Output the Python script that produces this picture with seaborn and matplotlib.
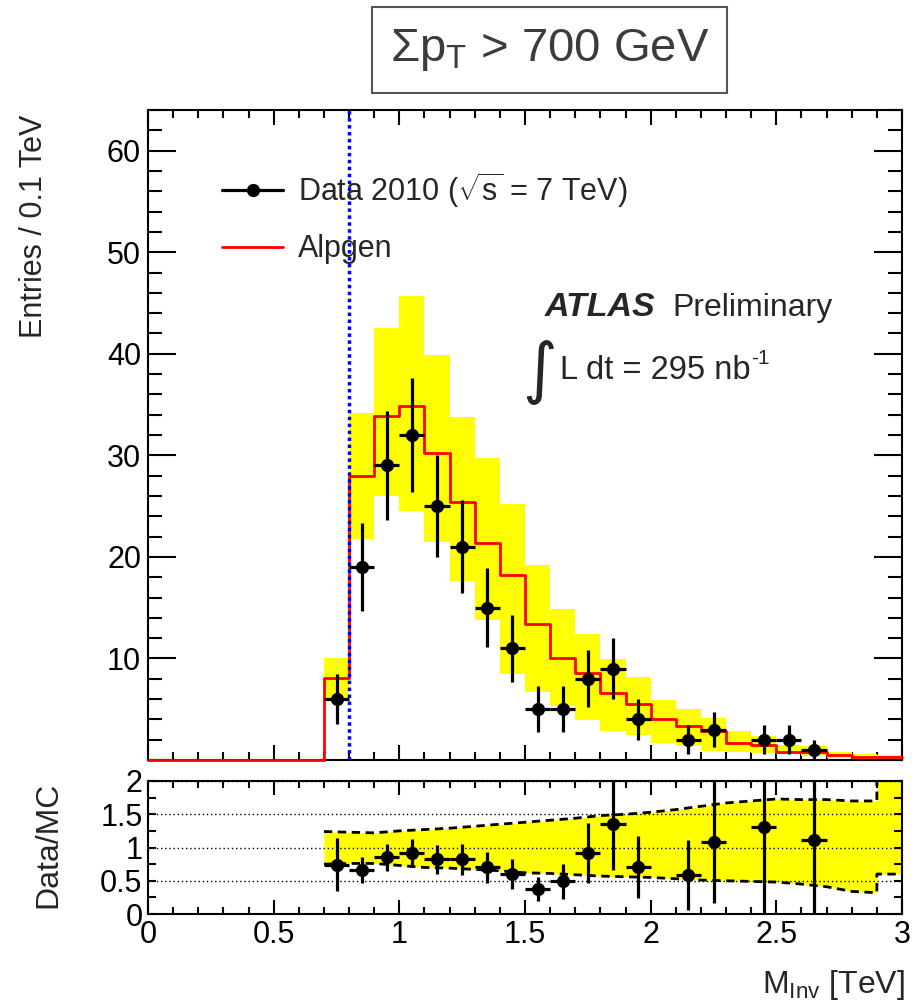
import numpy as np
import matplotlib
matplotlib.use("Agg")
import matplotlib.pyplot as plt
import seaborn as sns
from matplotlib.ticker import MultipleLocator
from matplotlib.lines import Line2D
from matplotlib.patches import Rectangle

# ---------------- data ----------------
bin_edges = [round(0.1 * i, 1) for i in range(31)]
mc_centers = [round(0.05 + 0.1 * i, 2) for i in range(30)]
mc_values = [0, 0, 0, 0, 0, 0, 0,
             8.1, 28.0, 33.9, 34.9, 30.2, 25.4, 21.4, 18.2, 13.4, 10.0, 8.6,
             6.6, 5.5, 4.0, 3.3, 2.9, 1.7, 1.45, 0.8, 0.8, 0.46, 0.33, 0.33]

band_centers = [round(0.75 + 0.1 * i, 2) for i in range(23)]
band_hi = [10.0, 34.2, 42.5, 45.7, 39.9, 33.8, 29.7, 25.2, 19.2, 14.9, 12.4, 9.9,
           8.2, 5.9, 5.0, 4.1, 2.9, 2.4, 1.45, 1.4, 0.8, 0.55, 0.5]
band_lo = [6.1, 21.8, 26.0, 24.5, 21.5, 17.6, 13.8, 8.5, 6.7, 5.3, 3.9, 2.85,
           2.5, 1.7, 1.4, 0.9, 0.8, 0.7, 0.56, 0.4, 0.2, 0.1, 0.1]

data_x = [0.75, 0.85, 0.95, 1.05, 1.15, 1.25, 1.35, 1.45, 1.55, 1.65, 1.75,
          1.85, 1.95, 2.15, 2.25, 2.45, 2.55, 2.65]
data_y = [6, 19, 29, 32, 25, 21, 15, 11, 5, 5, 8, 9, 4, 2, 3, 2, 2, 1]
data_err = [2.45, 4.36, 5.39, 5.66, 5.0, 4.58, 3.87, 3.32, 2.24, 2.24, 2.83,
            3.0, 2.0, 1.41, 1.73, 1.41, 1.41, 1.0]

ratio_x = [0.75, 0.85, 0.95, 1.05, 1.15, 1.25, 1.35, 1.45, 1.55, 1.65, 1.75,
           1.85, 1.95, 2.15, 2.25, 2.45, 2.65]
ratio_y = [0.74, 0.66, 0.85, 0.92, 0.82, 0.82, 0.70, 0.60, 0.37, 0.49, 0.92,
           1.35, 0.71, 0.59, 1.09, 1.31, 1.12]
ratio_err = [0.40, 0.19, 0.20, 0.21, 0.22, 0.24, 0.23, 0.22, 0.18, 0.26, 0.45,
             0.69, 0.47, 0.53, 0.92, 1.40, 1.30]

ratio_band_x = [0.7, 0.8, 0.9, 1.0, 1.1, 1.2, 1.3, 1.4, 1.5, 1.6, 1.7, 1.8,
                1.9, 2.0, 2.1, 2.2, 2.3, 2.4, 2.5, 2.6, 2.7, 2.8, 2.9, 2.9, 3.0]
ratio_band_hi = [1.24, 1.23, 1.22, 1.25, 1.27, 1.29, 1.32, 1.35, 1.38, 1.41,
                 1.44, 1.48, 1.50, 1.53, 1.57, 1.62, 1.67, 1.70, 1.73, 1.72,
                 1.72, 1.70, 1.70, 2.5, 2.5]
ratio_band_lo = [0.75, 0.76, 0.76, 0.73, 0.70, 0.69, 0.67, 0.65, 0.62, 0.61,
                 0.59, 0.57, 0.56, 0.55, 0.53, 0.51, 0.50, 0.49, 0.48, 0.45,
                 0.41, 0.34, 0.32, 0.60, 0.60]

cut_value = 0.8
main_yticks = [0, 10, 20, 30, 40, 50, 60]
main_yticklabels = ["", "10", "20", "30", "40", "50", "60"]
ratio_yticks = [0, 0.5, 1, 1.5, 2]
ratio_yticklabels = ["0", "0.5", "1", "1.5", "2"]
xticks = [0, 0.5, 1, 1.5, 2, 2.5, 3]
xticklabels = ["0", "0.5", "1", "1.5", "2", "2.5", "3"]

legend_labels = [r"Data 2010 ($\sqrt{\mathrm{s}}$ = 7 TeV)", "Alpgen"]

# ---------------- style ----------------
sns.set_theme(style="ticks")
plt.rcParams["font.family"] = ["Liberation Sans", "DejaVu Sans"]
plt.rcParams["mathtext.fontset"] = "custom"
plt.rcParams["mathtext.rm"] = "Liberation Sans"
plt.rcParams["mathtext.it"] = "Liberation Sans:italic"
plt.rcParams["mathtext.bf"] = "Liberation Sans:bold"
plt.rcParams["axes.linewidth"] = 1.5
plt.rcParams["axes.edgecolor"] = "black"
plt.rcParams["xtick.color"] = "black"
plt.rcParams["ytick.color"] = "black"

W, H = 924, 1002
fig = plt.figure(figsize=(W / 100, H / 100), dpi=100)
fig.patch.set_facecolor("white")

ax = fig.add_axes([148 / W, 1 - 760 / H, 754 / W, 650 / H])
rax = fig.add_axes([148 / W, 1 - 914 / H, 754 / W, 133 / H])

YELLOW = "#ffff00"

# ---------------- main panel ----------------
ax.bar(band_centers, np.array(band_hi) - np.array(band_lo), bottom=band_lo,
       width=0.1, color=YELLOW, linewidth=0, zorder=1)
n_lines = len(ax.lines)
sns.histplot(x=mc_centers, weights=mc_values, bins=bin_edges, element="step",
             fill=False, color="#ff0000", linewidth=2.0, ax=ax)
for ln in ax.lines[n_lines:]:
    ln.set_zorder(3)
    ln.set_clip_on(False)
ax.axvline(cut_value, color="#0000ff", linestyle=(0, (1, 1)), linewidth=2.5,
           zorder=4)
ax.errorbar(data_x, data_y, yerr=data_err, xerr=0.05, fmt="o", color="black",
            ms=8.5, elinewidth=2.3, capsize=0, zorder=5)

ax.set_xlim(0, 3)
ax.set_ylim(0, 64)
ax.set_xlabel("")
ax.set_ylabel("")
ax.set_xticks(xticks)
ax.xaxis.set_minor_locator(MultipleLocator(0.1))
ax.set_yticks(main_yticks)
ax.set_yticklabels(main_yticklabels)
ax.yaxis.set_minor_locator(MultipleLocator(2))
ax.tick_params(which="both", direction="in", top=True, right=True,
               labelbottom=False)
ax.tick_params(axis="y", which="major", length=20, width=1.5, labelsize=22,
               pad=5)
ax.tick_params(axis="y", which="minor", length=10, width=1.5)
ax.tick_params(axis="x", which="major", length=11, width=1.5)
ax.tick_params(axis="x", which="minor", length=5.5, width=1.5)
for s in ax.spines.values():
    s.set_visible(True)
    s.set_linewidth(1.5)
    s.set_zorder(2)

handles = [Line2D([], [], color="black", marker="o", ms=8.5, lw=2.3),
           Line2D([], [], color="#ff0000", lw=2.0)]
ax.legend(handles, legend_labels, loc="upper left",
          bbox_to_anchor=(222 / W, 1 - 170 / H), bbox_transform=fig.transFigure,
          frameon=False, fontsize=22, handlelength=2.0, handletextpad=0.5,
          labelspacing=0.8, borderpad=0, borderaxespad=0)

fig.text(545 / W, 1 - 316 / H, "ATLAS", fontsize=24.5, fontweight="bold",
         fontstyle="italic", va="baseline", ha="left")
fig.text(672 / W, 1 - 316 / H, "Preliminary", fontsize=23, va="baseline",
         ha="left")
fig.text(557 / W, 1 - 372 / H, "\u222b", fontsize=48, va="center",
         ha="right", family=["DejaVu Sans"])
lumi = fig.text(560 / W, 1 - 379 / H, "L dt = 295 nb", fontsize=23.5,
                va="baseline", ha="left")
renderer = fig.canvas.get_renderer()
bb = lumi.get_window_extent(renderer=renderer)
fig.text((bb.x1 + 1) / W, 1 - 364 / H, "-1", fontsize=15, va="baseline",
         ha="left")

# ---------------- ratio panel ----------------
rax.fill_between(ratio_band_x, ratio_band_lo, ratio_band_hi, color=YELLOW,
                 linewidth=0, zorder=1)
rax.plot(ratio_band_x, ratio_band_hi, color="black", linestyle=(0, (3, 2)),
         linewidth=2, zorder=2)
rax.plot(ratio_band_x, ratio_band_lo, color="black", linestyle=(0, (3, 2)),
         linewidth=2, zorder=2)
rax.errorbar(ratio_x, ratio_y, yerr=ratio_err, xerr=0.05, fmt="o",
             color="black", ms=8.5, elinewidth=2.3, capsize=0, zorder=5)

rax.set_xlim(0, 3)
rax.set_ylim(0, 2)
rax.set_xticks(xticks)
rax.set_xticklabels(xticklabels)
rax.xaxis.set_minor_locator(MultipleLocator(0.1))
rax.set_yticks(ratio_yticks)
rax.set_yticklabels(ratio_yticklabels)
rax.yaxis.set_minor_locator(MultipleLocator(0.25))
rax.grid(axis="y", which="major", color="black", linestyle=(0, (1, 2)),
         linewidth=1.0, zorder=0)
rax.set_axisbelow(False)
rax.tick_params(which="both", direction="in", top=True, right=True)
rax.tick_params(axis="y", which="both", length=6, width=1.5, labelsize=22,
                pad=4)
rax.tick_params(axis="x", which="major", length=10, width=1.5, labelsize=22,
                pad=4)
rax.tick_params(axis="x", which="minor", length=5, width=1.5)
for s in rax.spines.values():
    s.set_visible(True)
    s.set_linewidth(1.5)

# ---------------- axis titles & title box ----------------
fig.text(34 / W, 1 - 115 / H, "Entries / 0.1 TeV", rotation=90, fontsize=22,
         ha="center", va="top")
fig.text(48 / W, 1 - 845 / H, "Data/MC", rotation=90, fontsize=23,
         ha="center", va="center")
fig.text(905 / W, 1 - 985 / H, r"M$_{\rm Inv}$ [TeV]", fontsize=23,
         ha="right", va="center")

fig.patches.append(Rectangle((372 / W, 1 - 93 / H), 355 / W, 86 / H,
                             transform=fig.transFigure, facecolor="white",
                             edgecolor="#555555", linewidth=1.5))
fig.text(549.5 / W, 1 - 50 / H, "\u03a3p$_{\\rm T}$ > 700 GeV", fontsize=34,
         ha="center", va="center", color="#3c3c3c")

fig.savefig("out.png", dpi=100, facecolor="white")
